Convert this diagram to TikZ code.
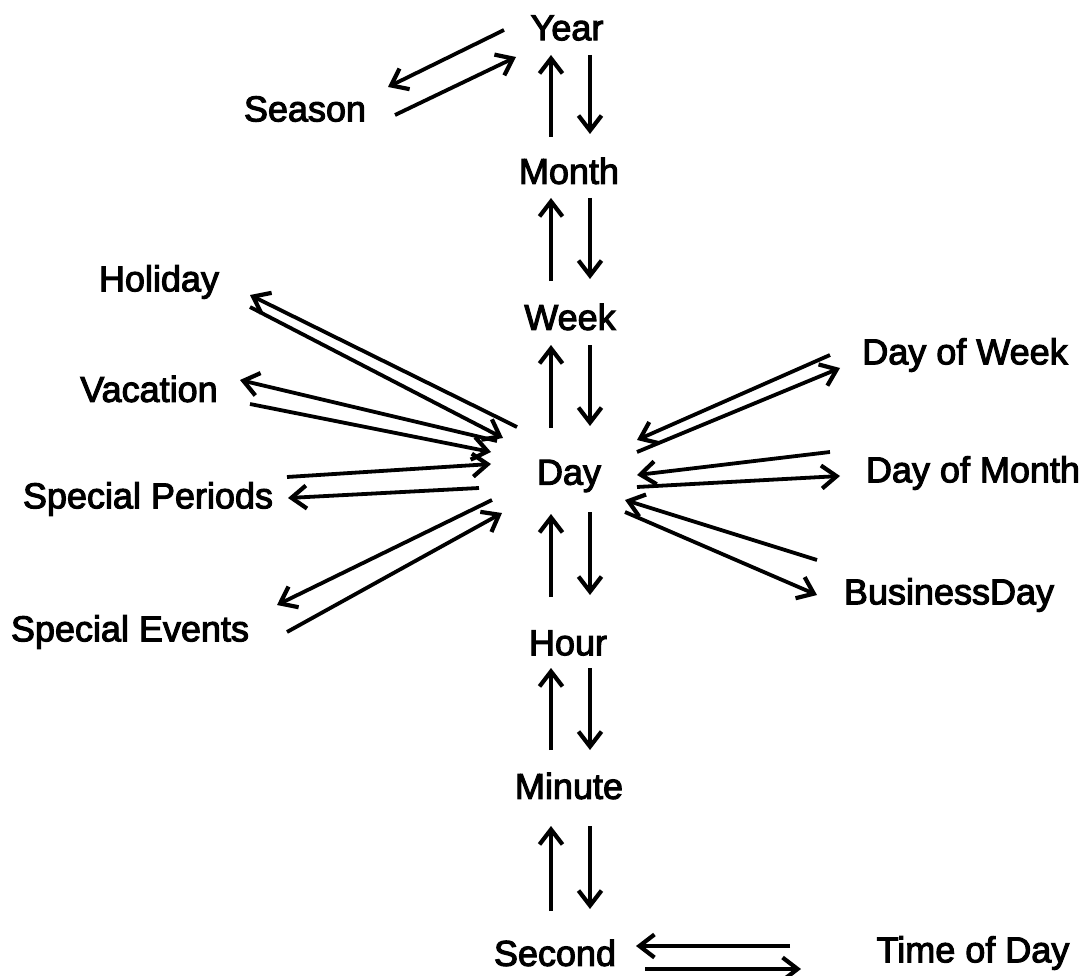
\documentclass[tikz,border=0pt]{standalone}
\usepackage{fontspec}
\setmainfont{Liberation Sans}
\newfontfamily\lblfont{Liberation Sans}[FakeBold=3]
\usetikzlibrary{arrows.meta}
\begin{document}
\begin{tikzpicture}[x=1pt,y=-1pt,
  lbl/.style={inner sep=0pt,font=\lblfont\fontsize{36}{40}\selectfont},
  rel/.style={line width=3.8pt,-{Straight Barb[length=15pt,width=23pt,line width=4.2pt]}}]
\useasboundingbox (0,0) rectangle (1089,976);

% labels
\node[lbl] (year)    at (567,28)  {Year};
\node[lbl] (season)  at (305,109) {Season};
\node[lbl] (month)   at (569,171) {Month};
\node[lbl] (holiday) at (159,282) {Holiday};
\node[lbl] (week)    at (570,317) {Week};
\node[lbl] (vac)     at (149,389) {Vacation};
\node[lbl] (dow)     at (965,355) {Day of Week};
\node[lbl] (day)     at (569,476) {Day};
\node[lbl] (dom)     at (973,473) {Day of Month};
\node[lbl] (sper)    at (148,499) {Special Periods};
\node[lbl] (bday)    at (949,595) {BusinessDay};
\node[lbl] (sev)     at (130,632) {Special Events};
\node[lbl] (hour)    at (568,643) {Hour};
\node[lbl] (minute)  at (569,786) {Minute};
\node[lbl] (second)  at (555,953) {Second};
\node[lbl] (tod)     at (973,953) {Time of Day};

% connector ends
\coordinate (ys1) at (504,30);  \coordinate (ys2) at (388,87);
\coordinate (sy1) at (395,115); \coordinate (sy2) at (516,57);

\coordinate (mY1) at (551,137); \coordinate (mY2) at (551,55);
\coordinate (yM1) at (590,55);  \coordinate (yM2) at (590,134);
\coordinate (wM1) at (551,281); \coordinate (wM2) at (551,198);
\coordinate (mW1) at (590,198); \coordinate (mW2) at (590,279);
\coordinate (dW1) at (551,428); \coordinate (dW2) at (551,345);
\coordinate (wD1) at (590,345); \coordinate (wD2) at (590,426);
\coordinate (hD1) at (551,597); \coordinate (hD2) at (551,514);
\coordinate (dH1) at (590,512); \coordinate (dH2) at (590,595);
\coordinate (nH1) at (551,750); \coordinate (nH2) at (551,668);
\coordinate (hN1) at (590,668); \coordinate (hN2) at (590,750);
\coordinate (sN1) at (551,911); \coordinate (sN2) at (551,826);
\coordinate (nS1) at (590,826); \coordinate (nS2) at (590,909);

\coordinate (dh1) at (517,427); \coordinate (dh2) at (250,295);
\coordinate (hd1) at (250,307); \coordinate (hd2) at (503,438);
\coordinate (dv1) at (497,441); \coordinate (dv2) at (240,380);
\coordinate (vd1) at (250,404); \coordinate (vd2) at (491,452);
\coordinate (pd1) at (287,477); \coordinate (pd2) at (491,464);
\coordinate (dp1) at (479,488); \coordinate (dp2) at (288,498);
\coordinate (de1) at (492,500); \coordinate (de2) at (277,605);
\coordinate (ed1) at (287,632); \coordinate (ed2) at (502,513);

\coordinate (wk1) at (830,355); \coordinate (wk2) at (637,440);
\coordinate (kw1) at (637,452); \coordinate (kw2) at (840,368);
\coordinate (mo1) at (830,452); \coordinate (mo2) at (637,475);
\coordinate (om1) at (637,487); \coordinate (om2) at (840,476);
\coordinate (bd1) at (817,560); \coordinate (bd2) at (625,500);
\coordinate (db1) at (625,512); \coordinate (db2) at (817,595);

\coordinate (ts1) at (790,946); \coordinate (ts2) at (636,946);
\coordinate (st1) at (645,969); \coordinate (st2) at (801,969);

% connectors
\foreach \a/\b in {ys1/ys2,sy1/sy2,mY1/mY2,yM1/yM2,wM1/wM2,mW1/mW2,
  dW1/dW2,wD1/wD2,hD1/hD2,dH1/dH2,nH1/nH2,hN1/hN2,sN1/sN2,nS1/nS2,
  dh1/dh2,hd1/hd2,dv1/dv2,vd1/vd2,pd1/pd2,dp1/dp2,de1/de2,ed1/ed2,
  wk1/wk2,kw1/kw2,mo1/mo2,om1/om2,bd1/bd2,db1/db2,ts1/ts2,st1/st2}
  \draw[rel] (\a) -- (\b);
\end{tikzpicture}
\end{document}
